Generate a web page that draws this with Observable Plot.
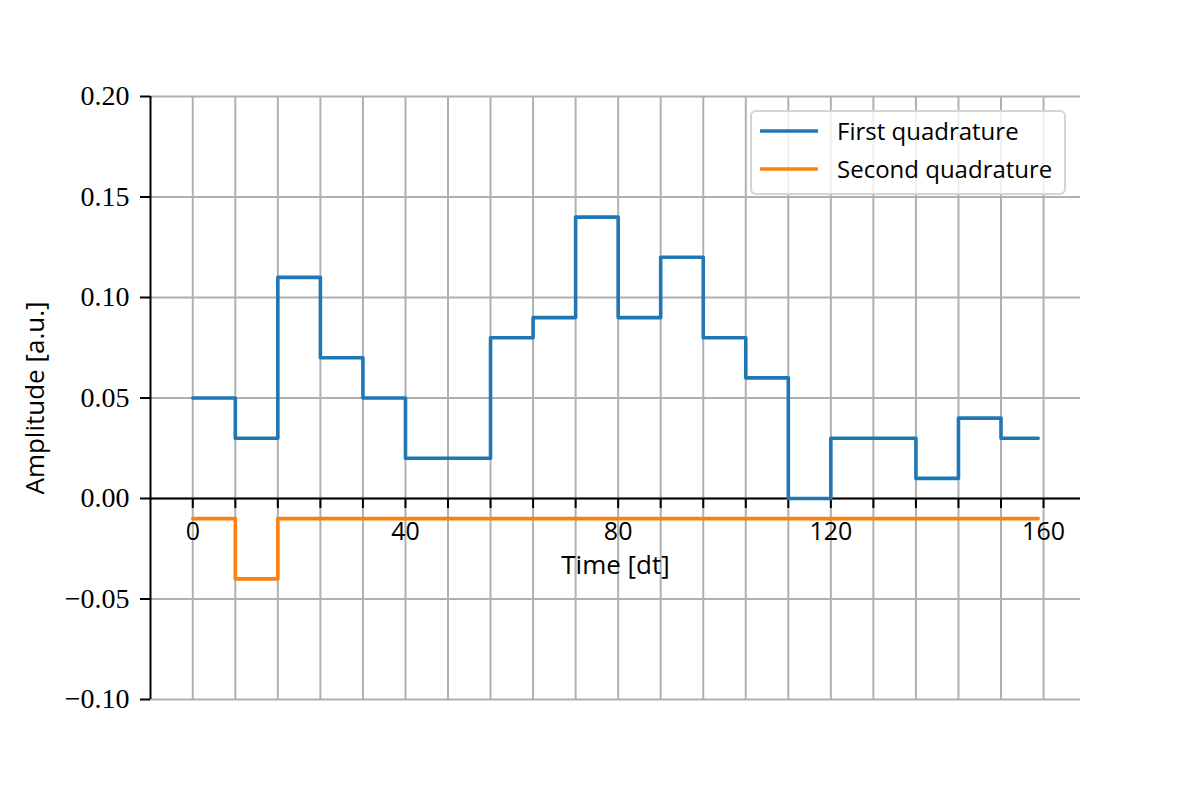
<!DOCTYPE html>
<html><head><meta charset="utf-8">
<script src="https://cdn.jsdelivr.net/npm/d3@7"></script>
<script src="https://cdn.jsdelivr.net/npm/@observablehq/plot@0.6"></script>
<style>
body{margin:0;background:#fff;}
#wrap{position:relative;width:1200px;height:800px;}
#legend{position:absolute;left:750px;top:110px;width:316px;height:85px;border:2px solid rgba(204,204,204,0.85);border-radius:6px;background:rgba(255,255,255,0.8);font-family:"Open Sans";font-size:24px;box-sizing:border-box;color:#000;}
.item{position:absolute;left:8px;height:30px;line-height:30px;display:flex;align-items:center;white-space:nowrap;}
.item svg{margin-right:19px;}
</style></head><body><div id="wrap"></div>
<script>
const time = [0, 8, 16, 24, 32, 40, 48, 56, 64, 72, 80, 88, 96, 104, 112, 120, 128, 136, 144, 152, 159];
const firstQuadrature = [0.05, 0.03, 0.11, 0.07, 0.05, 0.02, 0.02, 0.08, 0.09, 0.14, 0.09, 0.12, 0.08, 0.06, 0.00, 0.03, 0.03, 0.01, 0.04, 0.03, 0.03];
const secondQuadrature = [-0.01, -0.04, -0.01, -0.01, -0.01, -0.01, -0.01, -0.01, -0.01, -0.01, -0.01, -0.01, -0.01, -0.01, -0.01, -0.01, -0.01, -0.01, -0.01, -0.01, -0.01];
const xTicks = [0, 8, 16, 24, 32, 40, 48, 56, 64, 72, 80, 88, 96, 104, 112, 120, 128, 136, 144, 152, 160];
const xTickLabels = [0, 40, 80, 120, 160];
const yTicks = [-0.10, -0.05, 0.00, 0.05, 0.10, 0.15, 0.20];
const seriesNames = ["First quadrature", "Second quadrature"];
const seriesColors = ["#1f77b4", "#ff7f0e"];
const xDomain = [-7.95, 166.95];
const yDomain = [-0.10, 0.20];
const xLabel = "Time [dt]";
const yLabel = "Amplitude [a.u.]";

const rows = [];
time.forEach((t, i) => rows.push({t, v: firstQuadrature[i], s: seriesNames[0]}));
time.forEach((t, i) => rows.push({t, v: secondQuadrature[i], s: seriesNames[1]}));

const tickDown = {draw(ctx) { ctx.moveTo(0, 0); ctx.lineTo(0, 9.5); }};
const grid = "#b0b0b0";

const chart = Plot.plot({
  width: 1200, height: 800,
  marginLeft: 150, marginRight: 120, marginTop: 96, marginBottom: 101,
  x: {domain: xDomain, axis: null},
  y: {domain: yDomain},
  color: {domain: seriesNames, range: seriesColors},
  style: {background: "white", overflow: "visible"},
  marks: [
    Plot.ruleX(xTicks, {x: d => d, stroke: grid, strokeWidth: 2}),
    Plot.ruleY(yTicks, {y: d => d, stroke: grid, strokeWidth: 2}),
    Plot.ruleX([xDomain[0]], {stroke: "black", strokeWidth: 2}),
    Plot.ruleY([0], {stroke: "black", strokeWidth: 2}),
    Plot.axisY({ticks: yTicks, tickSize: 10, tickPadding: 11, tickFormat: d3.format(".2f"), label: null,
      fontFamily: "Liberation Serif", fontSize: 28, strokeWidth: 2, fill: "black"}),
    Plot.dot(xTicks, {x: d => d, y: () => 0, symbol: tickDown, fill: "none", stroke: "black", strokeWidth: 2}),
    Plot.text(xTickLabels, {x: d => d, y: () => 0, text: d => String(d), lineAnchor: "top", dy: 24,
      fontFamily: "Open Sans", fontSize: 25, fill: "black"}),
    Plot.text([xLabel], {y: () => 0, text: d => d, lineAnchor: "top", dy: 57,
      fontFamily: "Open Sans", fontSize: 26, fill: "black"}),
    Plot.text([yLabel], {frameAnchor: "left", text: d => d, rotate: -90, dx: -115, textAnchor: "middle",
      fontFamily: "Open Sans", fontSize: 26, fill: "black"}),
    Plot.line(rows, {x: "t", y: "v", z: "s", stroke: "s", curve: "step-after", strokeWidth: 3.6})
  ]
});

const wrap = document.getElementById("wrap");
wrap.appendChild(chart);
const legend = document.createElement("div");
legend.id = "legend";
seriesNames.forEach((name, i) => {
  const item = document.createElement("div");
  item.className = "item";
  item.style.top = (4 + i * 38) + "px";
  item.innerHTML = `<svg width="58" height="6"><line x1="0" x2="58" y1="3" y2="3" stroke="${seriesColors[i]}" stroke-width="3.6"/></svg><span>${name}</span>`;
  legend.appendChild(item);
});
wrap.appendChild(legend);
</script></body></html>
